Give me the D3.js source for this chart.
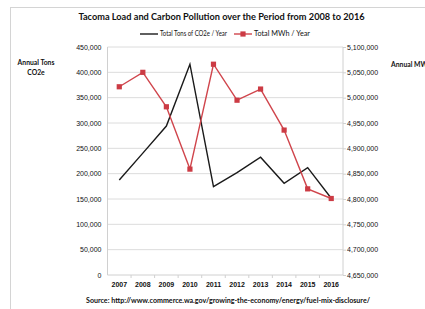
<!DOCTYPE html>
<html>
<head>
<meta charset="utf-8">
<script src="https://cdn.jsdelivr.net/npm/d3@7"></script>
<style>
	body { margin: 0; background: #fff; }
	svg { font-family: Lato, "Open Sans", sans-serif; }
	.axis path, .axis line { stroke: #d0d0d0; }
	.axis text { fill: #111; font-size: 7px; }
</style>
</head>
<body>
<div id="chart"></div>
<script>
const years = ["2007", "2008", "2009", "2010", "2011", "2012", "2013", "2014", "2015", "2016"];
const co2Tons = [187500, 240500, 294000, 416000, 174500, 202000, 232500, 181000, 212000, 151500];
const mwh = [5021500, 5050000, 4982000, 4859000, 5066000, 4995000, 5017000, 4936000, 4820000, 4801000];
const leftTicks = [0, 50000, 100000, 150000, 200000, 250000, 300000, 350000, 400000, 450000];
const rightTicks = [4650000, 4700000, 4750000, 4800000, 4850000, 4900000, 4950000, 5000000, 5050000, 5100000];

const W = 425, H = 309;
const margin = { top: 47, right: 82, bottom: 34, left: 107.5 };
const width = W - margin.left - margin.right;
const height = H - margin.top - margin.bottom;

const svg = d3.select("#chart").append("svg")
	.attr("width", W)
	.attr("height", H);

// rand van het grafiekgebied
svg.append("rect")
	.attr("x", 10.5).attr("y", 7.5)
	.attr("width", 430).attr("height", 320)
	.attr("fill", "none")
	.attr("stroke", "#d4d4d4");

const g = svg.append("g")
	.attr("transform", `translate(${margin.left}, ${margin.top})`);

const x = d3.scaleBand().domain(years).range([0, width]);
const yL = d3.scaleLinear().domain([0, 450000]).range([height, 0]);
const yR = d3.scaleLinear().domain([4650000, 5100000]).range([height, 0]);
const fmt = d3.format(",");

// rasterlijnen
g.append("g")
	.selectAll("line")
	.data(leftTicks.slice(1))
	.join("line")
	.attr("x1", 0).attr("x2", width)
	.attr("y1", d => yL(d)).attr("y2", d => yL(d))
	.attr("stroke", "#dcdcdc");

g.append("g")
	.attr("class", "axis")
	.call(d3.axisLeft(yL).tickValues(leftTicks).tickFormat(fmt).tickSize(0).tickPadding(6))
	.call(s => s.select(".domain").attr("d", `M0,0V${height}`));

g.append("g")
	.attr("class", "axis")
	.attr("transform", `translate(${width},0)`)
	.call(d3.axisRight(yR).tickValues(rightTicks).tickFormat(fmt).tickSize(3).tickPadding(1))
	.call(s => s.select(".domain").attr("d", `M0,0V${height}`));

const xAxis = g.append("g")
	.attr("class", "axis")
	.attr("transform", `translate(0,${height})`)
	.call(d3.axisBottom(x).tickSize(0).tickPadding(7));
xAxis.select(".domain").attr("d", `M0,0H${width}`);
xAxis.selectAll(".tick text").style("font-weight", "bold");
// kleine streepjes tussen de jaren
xAxis.selectAll(".sep")
	.data(years.slice(1))
	.join("line")
	.attr("class", "sep")
	.attr("x1", d => x(d)).attr("x2", d => x(d))
	.attr("y1", 0).attr("y2", 3)
	.attr("stroke", "#d0d0d0");

const cx = d => x(d) + x.bandwidth() / 2;

g.append("path")
	.datum(co2Tons)
	.attr("fill", "none")
	.attr("stroke", "#1a1a1a")
	.attr("stroke-width", 1.4)
	.attr("d", d3.line().x((d, i) => cx(years[i])).y(d => yL(d)));

g.append("path")
	.datum(mwh)
	.attr("fill", "none")
	.attr("stroke", "#d0454c")
	.attr("stroke-width", 1.4)
	.attr("d", d3.line().x((d, i) => cx(years[i])).y(d => yR(d)));

g.selectAll(".marker")
	.data(mwh)
	.join("rect")
	.attr("class", "marker")
	.attr("x", (d, i) => cx(years[i]) - 2.6)
	.attr("y", d => yR(d) - 2.6)
	.attr("width", 5.2).attr("height", 5.2)
	.attr("fill", "#cc3b44");

// titel
svg.append("text")
	.attr("x", 221.5).attr("y", 20)
	.attr("text-anchor", "middle")
	.style("font-size", "9.2px")
	.style("font-weight", "bold")
	.attr("fill", "#111")
	.text("Tacoma Load and Carbon Pollution over the Period from 2008 to 2016");

// legenda
const legend = svg.append("g").attr("fill", "#111");
legend.append("line").attr("x1", 140).attr("x2", 158).attr("y1", 34).attr("y2", 34)
	.attr("stroke", "#1a1a1a").attr("stroke-width", 1.4);
legend.append("text").attr("x", 160).attr("y", 36.4)
	.style("font-size", "7px")
	.attr("textLength", 67).attr("lengthAdjust", "spacingAndGlyphs")
	.text("Total Tons of CO2e / Year");
legend.append("line").attr("x1", 234).attr("x2", 252).attr("y1", 34).attr("y2", 34)
	.attr("stroke", "#d0454c").attr("stroke-width", 1.4);
legend.append("rect").attr("x", 240.4).attr("y", 31.4).attr("width", 5.2).attr("height", 5.2)
	.attr("fill", "#cc3b44");
legend.append("text").attr("x", 254).attr("y", 36.4)
	.style("font-size", "7px")
	.attr("textLength", 56).attr("lengthAdjust", "spacingAndGlyphs")
	.text("Total MWh / Year");

// astitels
const yTitle = svg.append("text")
	.attr("text-anchor", "middle")
	.style("font-size", "6.8px")
	.style("font-weight", "bold")
	.attr("fill", "#111");
yTitle.append("tspan").attr("x", 36).attr("y", 65).text("Annual Tons");
yTitle.append("tspan").attr("x", 36).attr("y", 75).text("CO2e");

svg.append("text")
	.attr("x", 391).attr("y", 67)
	.style("font-size", "6.8px")
	.style("font-weight", "bold")
	.attr("fill", "#111")
	.text("Annual MWh");

svg.append("text")
	.attr("x", 86).attr("y", 303)
	.style("font-size", "7.1px")
	.style("font-weight", "bold")
	.attr("fill", "#111")
	.text("Source: http://www.commerce.wa.gov/growing-the-economy/energy/fuel-mix-disclosure/");
</script>
</body>
</html>
